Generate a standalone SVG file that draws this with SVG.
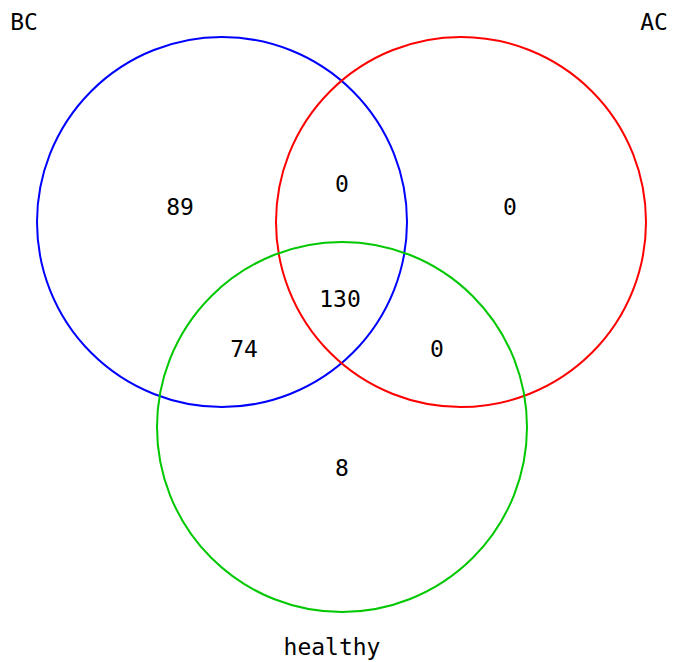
<svg xmlns="http://www.w3.org/2000/svg" width="673" height="662" viewBox="0 0 673 662">
<style>
.c{fill:none;stroke-width:2}
text{font-family:"DejaVu Sans Mono","Liberation Mono",monospace;font-size:23px;fill:#000;text-anchor:middle}
</style>
<rect width="673" height="662" fill="#fff"/>
<g id="sets">
<g id="bc"><circle class="c" cx="222" cy="222" r="185" stroke="#0000ff"/></g>
<g id="ac"><circle class="c" cx="461" cy="222" r="185" stroke="#ff0000"/></g>
<g id="healthy"><circle class="c" cx="342" cy="427" r="185" stroke="#00c800"/></g>
</g>
<g id="labels">
<text x="24" y="30">BC</text>
<text x="654" y="30">AC</text>
<text x="332" y="655">healthy</text>
</g>
<g id="counts">
<text x="180" y="215">89</text>
<text x="342" y="192">0</text>
<text x="510" y="215">0</text>
<text x="340" y="307">130</text>
<text x="244" y="357">74</text>
<text x="437" y="357">0</text>
<text x="342" y="476">8</text>
</g>
</svg>
